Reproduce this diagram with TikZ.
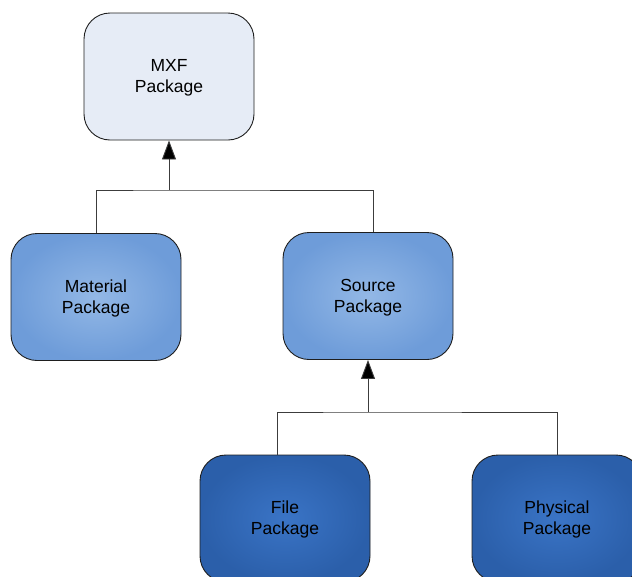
\documentclass[tikz,border=0pt]{standalone}
\usepackage{fontspec}
\setmainfont{Liberation Sans}
\usetikzlibrary{arrows.meta}
\definecolor{paleblue}{HTML}{E6ECF6}
\definecolor{midouter}{HTML}{6E9CD9}
\definecolor{midinner}{HTML}{93B8E6}
\definecolor{deepouter}{HTML}{2B5FAA}
\definecolor{deepinner}{HTML}{3A74C6}
\definecolor{edge}{HTML}{1E1E1E}
\definecolor{wire}{HTML}{3C3C3C}
\tikzset{
  x=1pt, y=-1pt,
  pkg/.style={draw=edge, line width=0.9pt, rounded corners=26pt,
    minimum width=170pt, minimum height=127pt, align=center,
    font=\fontsize{17.5}{21}\selectfont, text=black, inner sep=0pt},
  toppkg/.style={pkg, fill=paleblue},
  midpkg/.style={pkg, inner color=midinner, outer color=midouter},
  lowpkg/.style={pkg, inner color=deepinner, outer color=deepouter},
  wirestyle/.style={draw=wire, line width=0.9pt},
  arrowstyle/.style={wirestyle, -{Triangle[width=14pt,length=19pt,fill=black]}}
}
\begin{document}
\begin{tikzpicture}
\useasboundingbox (0,0) rectangle (632,576);
\node[toppkg] (mxf) at (169,76.5) {\vphantom{X}\\[-18pt]MXF\\Package};
\node[midpkg] (material) at (96,297) {\vphantom{X}\\[-18pt]Material\\Package};
\node[midpkg] (source) at (368,296) {\vphantom{X}\\[-18pt]Source\\Package};
\node[lowpkg] (file) at (285,518.5) {\vphantom{X}\\[-18pt]File\\Package};
\node[lowpkg] (physical) at (557,518.5) {\vphantom{X}\\[-18pt]Physical\\Package};
% upper tree
\coordinate (j1) at (169,190);
\draw[wirestyle] (material.north -| 96,0) |- (j1) -| (source.north -| 373,0);
\draw[arrowstyle] (j1) -- (mxf.south);
% lower tree
\coordinate (j2) at (368,412);
\draw[wirestyle] (file.north -| 277,0) |- (j2) -| (physical.north);
\draw[arrowstyle] (j2) -- (source.south);
\end{tikzpicture}
\end{document}
